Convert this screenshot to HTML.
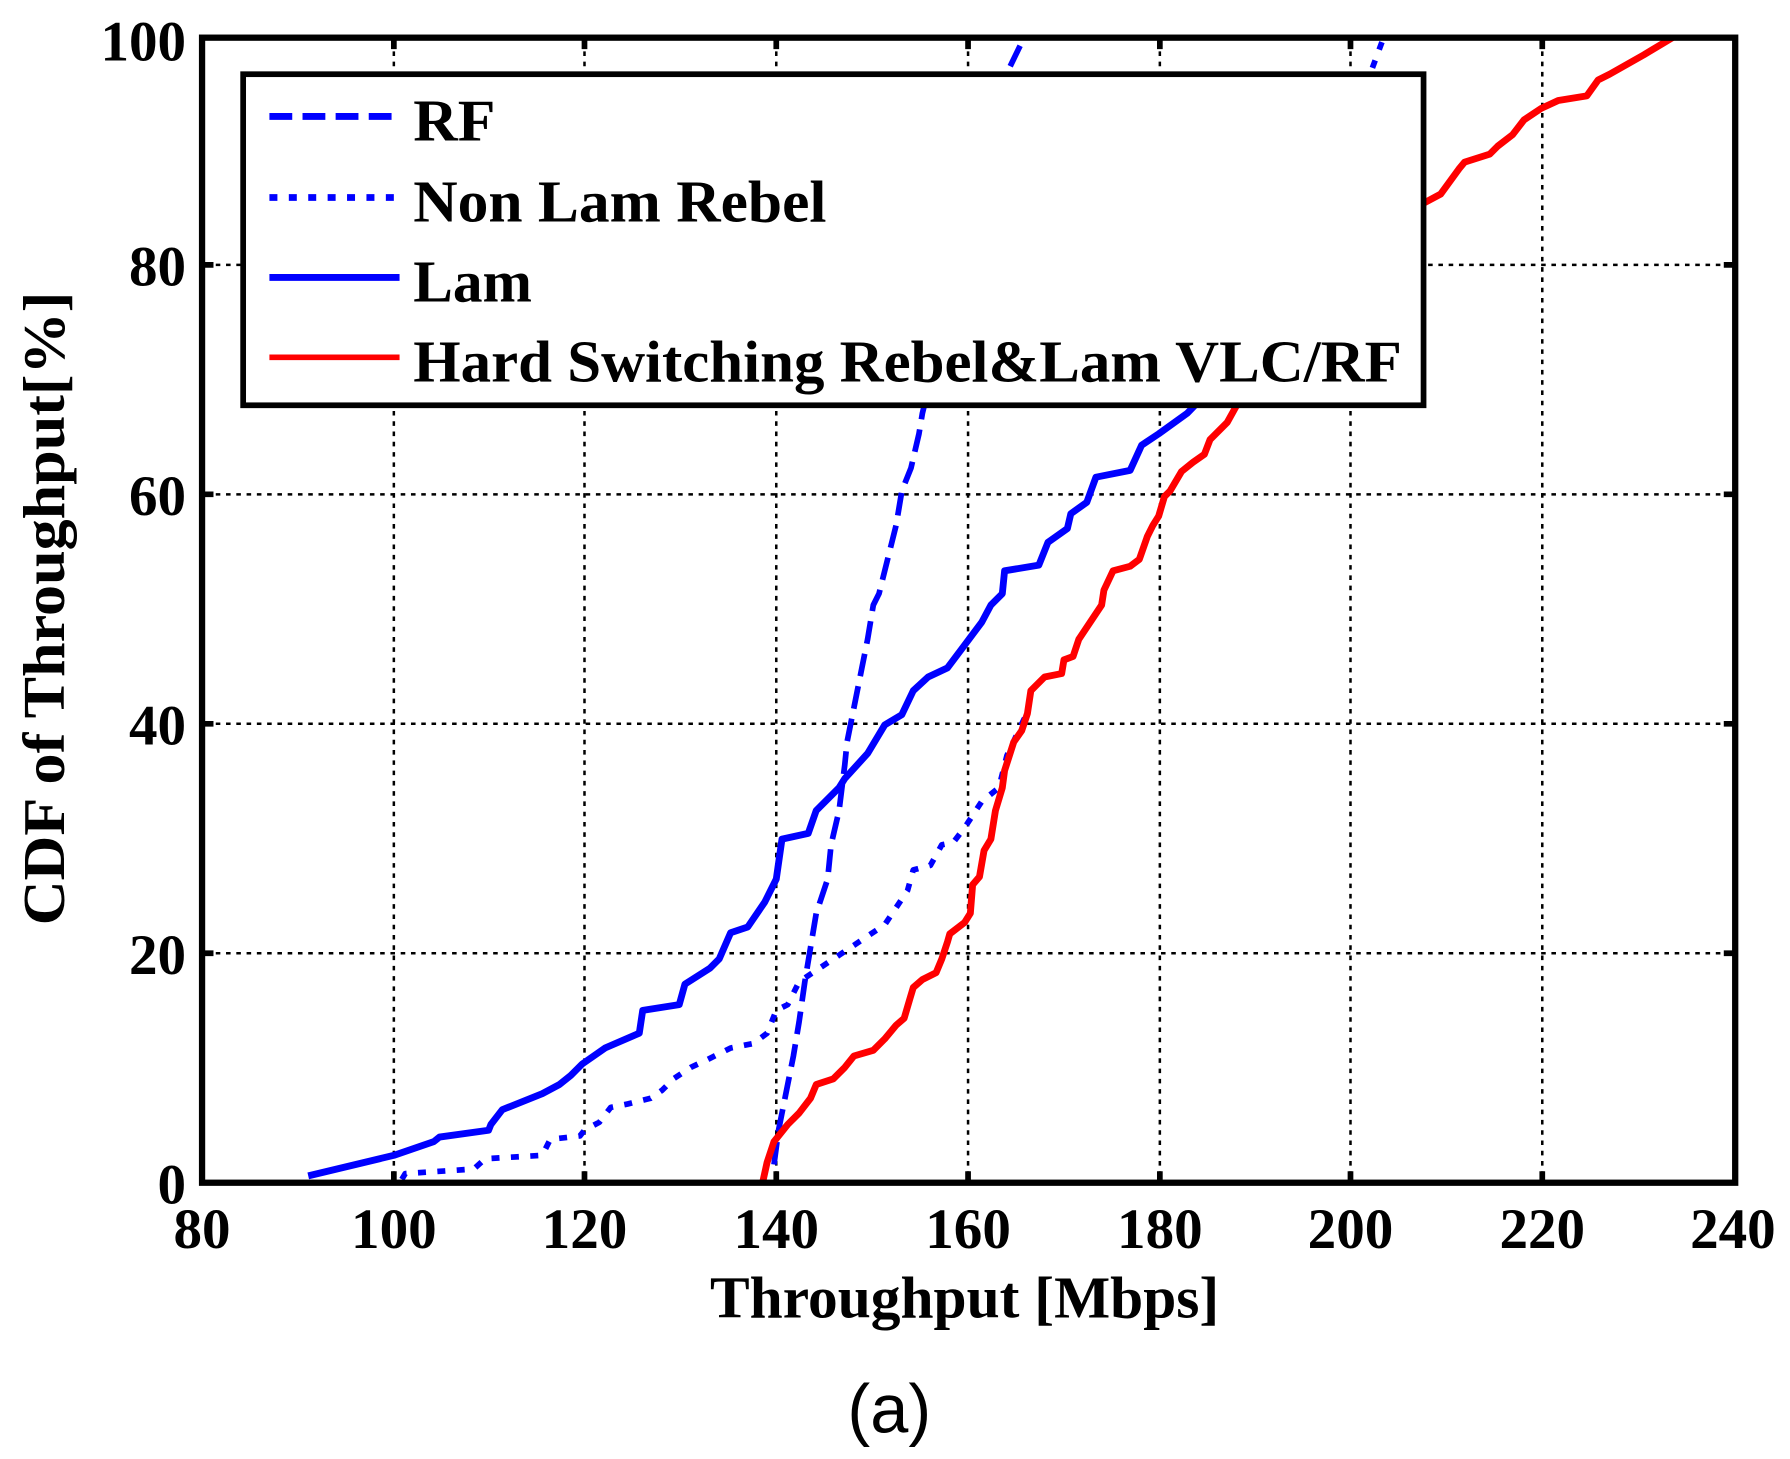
<!DOCTYPE html>
<html><head><meta charset="utf-8"><style>html,body{margin:0;padding:0;background:#fff}svg{display:block}</style></head>
<body>
<svg width="1790" height="1459" viewBox="0 0 1568 1278" preserveAspectRatio="none" xmlns="http://www.w3.org/2000/svg" font-family="'Liberation Serif', serif" font-weight="bold">
<rect width="1568" height="1278" fill="#fff"/>
<g stroke="#000" stroke-width="2.2" stroke-dasharray="4,5" fill="none">
<line x1="345" y1="36" x2="345" y2="1033"/><line x1="512" y1="36" x2="512" y2="1033"/><line x1="680" y1="36" x2="680" y2="1033"/><line x1="848" y1="36" x2="848" y2="1033"/><line x1="1016" y1="36" x2="1016" y2="1033"/><line x1="1183" y1="36" x2="1183" y2="1033"/><line x1="1351" y1="36" x2="1351" y2="1033"/>
<line x1="180" y1="835" x2="1517" y2="835"/><line x1="180" y1="634" x2="1517" y2="634"/><line x1="180" y1="433" x2="1517" y2="433"/><line x1="180" y1="232" x2="1517" y2="232"/>
</g>
<g stroke="#000" stroke-width="5">
<path d="M345 1036v-10M512 1036v-10M680 1036v-10M848 1036v-10M1016 1036v-10M1183 1036v-10M1351 1036v-10M345 33v10M512 33v10M680 33v10M848 33v10M1016 33v10M1183 33v10M1351 33v10"/>
<path d="M177 835h10M177 634h10M177 433h10M177 232h10M1520 835h-10M1520 634h-10M1520 433h-10M1520 232h-10"/>
</g>
<g fill="none" stroke-linejoin="round">
<polyline stroke="#0000ff" stroke-width="5" stroke-dasharray="7,10" points="352,1033 355,1028 415,1024 425,1015 475,1012 482,998 508,995 512,990 525,983 535,970 550,967 570,962 580,955 590,945 605,935 620,928 640,918 660,914 672,905 680,885 690,880 695,870 700,860 715,850 730,840 760,820 775,810 785,795 795,780 800,762 815,758 825,740 835,738 845,725 860,702 875,690 882,662 897,630 900,625 903,605 915,593 930,590 932,578 940,575 945,560 955,545 965,530 967,517 975,500 990,496 998,490 1005,470 1010,460 1015,452 1020,435 1025,430 1035,413 1045,405 1055,398 1060,385 1075,370 1085,352 1150,250 1202,60 1212,33"/>
<polyline stroke="#0000ff" stroke-width="5" stroke-dasharray="20,9" points="678,1020 682,990 688,960 695,925 700,895 705,860 710,830 715,800 725,770 728,740 735,710 740,670 742,650 748,620 755,585 760,560 765,530 770,520 775,500 785,460 790,430 798,410 805,380 808,362 840,230 883,62 897,33"/>
<polyline stroke="#0000ff" stroke-width="6" points="270,1030 345,1012 380,1000 385,996 428,990 430,985 440,972 475,958 490,950 500,942 510,932 530,918 560,905 563,885 595,880 600,862 622,848 630,840 640,817 655,812 670,790 680,770 685,735 708,730 715,710 735,690 740,682 760,660 775,635 790,626 800,605 813,593 830,585 845,565 860,545 868,530 878,520 880,500 910,495 918,475 935,463 938,450 952,440 960,418 990,412 1000,390 1015,380 1040,362 1100,300 1150,200"/>
<polyline stroke="#ff0000" stroke-width="6" points="668,1036 672,1018 678,1000 690,985 700,975 710,962 715,950 730,945 740,935 748,925 765,920 775,910 785,898 792,892 797,875 800,865 808,858 820,852 825,840 830,825 832,818 845,808 850,800 852,775 858,768 862,745 868,735 872,710 878,690 880,675 888,650 895,640 900,625 903,605 915,593 930,590 932,578 940,575 945,560 955,545 965,530 967,517 975,500 990,496 998,490 1005,470 1010,460 1015,452 1020,435 1025,430 1035,413 1045,405 1055,398 1060,385 1075,370 1085,352 1150,260 1247,178 1262,170 1278,148 1283,142 1305,135 1312,128 1325,118 1335,105 1350,95 1365,88 1390,84 1400,70 1410,65 1440,48 1465,33"/>
</g>
<rect x="177" y="33" width="1343" height="1003" fill="none" stroke="#000" stroke-width="5.5"/>
<rect x="213" y="65" width="1034" height="290" fill="#fff" stroke="#000" stroke-width="5"/>
<line x1="236" y1="102" x2="350" y2="102" stroke="#0000ff" stroke-width="6" stroke-dasharray="20,9"/>
<line x1="236" y1="173" x2="350" y2="173" stroke="#0000ff" stroke-width="6" stroke-dasharray="7,10"/>
<line x1="236" y1="243" x2="350" y2="243" stroke="#0000ff" stroke-width="6"/>
<line x1="236" y1="313" x2="350" y2="313" stroke="#ff0000" stroke-width="5"/>
<g font-size="52" fill="#000">
<text x="362" y="123" textLength="72" lengthAdjust="spacingAndGlyphs">RF</text>
<text x="362" y="194" textLength="362" lengthAdjust="spacingAndGlyphs">Non Lam Rebel</text>
<text x="362" y="264" textLength="104" lengthAdjust="spacingAndGlyphs">Lam</text>
<text x="362" y="334" textLength="866" lengthAdjust="spacingAndGlyphs">Hard Switching Rebel&amp;Lam VLC/RF</text>
</g>
<g font-size="50" fill="#000" text-anchor="middle">
<text x="177" y="1093">80</text><text x="345" y="1093">100</text><text x="512" y="1093">120</text><text x="680" y="1093">140</text><text x="848" y="1093">160</text><text x="1016" y="1093">180</text><text x="1183" y="1093">200</text><text x="1351" y="1093">220</text><text x="1518" y="1093">240</text>
</g>
<g font-size="50" fill="#000" text-anchor="end">
<text x="163" y="1054">0</text><text x="163" y="853">20</text><text x="163" y="652">40</text><text x="163" y="451">60</text><text x="163" y="250">80</text><text x="163" y="53">100</text>
</g>
<text x="845" y="1154" font-size="52" text-anchor="middle" textLength="446" lengthAdjust="spacingAndGlyphs">Throughput [Mbps]</text>
<text transform="translate(56,533) rotate(-90)" font-size="52" text-anchor="middle" textLength="555" lengthAdjust="spacingAndGlyphs">CDF of Throughput[%]</text>
<text x="779" y="1255" font-size="60" font-weight="normal" text-anchor="middle" font-family="'Liberation Sans', sans-serif">(a)</text>
</svg>
</body></html>
